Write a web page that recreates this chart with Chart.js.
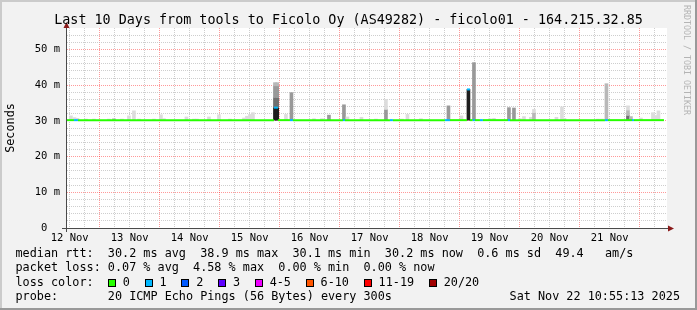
<!DOCTYPE html>
<html>
<head>
<meta charset="utf-8">
<title>Last 10 Days from tools to Ficolo Oy</title>
<script src="https://cdn.jsdelivr.net/npm/chart.js"></script>
<style>
  html, body { margin: 0; padding: 0; background: #f2f2f2; }
  #graph { position: relative; width: 697px; height: 310px; overflow: hidden; background: #f2f2f2;
           font-family: "DejaVu Sans Mono", monospace; color: #000; }
  #graph canvas { position: absolute; left: 0; top: 0; }
  .edge { position: absolute; }
  .t { position: absolute; white-space: pre; font-size: 11.8px; line-height: 14px; }
  #title { left: 0; width: 697px; top: 11.5px; text-align: center; font-size: 13.4px; line-height: 16px; }
  #mark { left: 681.5px; top: 5px; width: 10px; font-size: 8.3px; line-height: 10px;
          writing-mode: vertical-rl; color: #b4b4b4; }
  .sw { display: inline-block; width: 6px; height: 6px; border: 1px solid #000; vertical-align: -1px; margin-right: 7px; }
  .lab { margin-right: 14.6px; }
</style>
</head>
<body>
<div id="graph">
  <canvas id="rtt" width="697" height="310"></canvas>
  <div class="edge" style="left:0;top:0;width:697px;height:2px;background:#cbcbcb"></div>
  <div class="edge" style="left:0;top:0;width:2px;height:310px;background:#cbcbcb"></div>
  <div class="edge" style="left:0;top:308px;width:697px;height:2px;background:#999"></div>
  <div class="edge" style="left:695px;top:0;width:2px;height:310px;background:#999"></div>
  <div class="t" id="title">Last 10 Days from tools to Ficolo Oy (AS49282) - ficolo01 - 164.215.32.85</div>
  <div class="t" id="mark">RRDTOOL / TOBI OETIKER</div>
  <div class="t" id="line1" style="left:15.5px;top:246.2px"></div>
  <div class="t" id="line2" style="left:15.5px;top:260.4px"></div>
  <div class="t" id="line3" style="left:15.5px;top:274.6px"></div>
  <div class="t" id="line4" style="left:15.5px;top:288.8px"></div>
  <div class="t" id="stamp" style="right:17px;top:288.8px"></div>
</div>
<script>
(function () {
    "use strict";

    // x axis: hours after 12 Nov 00:00, graph covers 10 days up to 22 Nov 10:55
    const rangeStart = 10.92;
    const rangeEnd = 250.92;
    const dayLabels = ["12 Nov", "13 Nov", "14 Nov", "15 Nov", "16 Nov",
                       "17 Nov", "18 Nov", "19 Nov", "20 Nov", "21 Nov"];

    // median rtt (ms) and lost pings, each value holds until the next hour listed
    const medianHours = [10.92, 13.7, 15.3, 93.7, 95.3, 100.1, 101.3, 121.3, 122.1, 140.1, 141.3,
                         162.1, 164.1, 170.9, 172.1, 173.2, 174.1, 176.1, 177.3, 187.3, 188.1,
                         226.1, 227.3, 236.9, 237.7, 249.7];
    const medianMs = [30.2, 30.2, 30.2, 33.7, 30.2, 30.2, 30.2, 30.2, 30.2, 30.2, 30.2,
                      30.2, 30.2, 38.8, 30.2, 30.2, 30.2, 30.2, 30.2, 30.2, 30.2,
                      30.2, 30.2, 30.2, 30.2, 30.2];
    const medianLoss = [0, 1, 0, 1, 0, 1, 0, 1, 0, 1, 0,
                        1, 0, 1, 0, 1, 0, 1, 0, 1, 0,
                        1, 0, 1, 0, 0];

    // smoke: spread of the pings per hour (ms), density 1 = few pings .. 5 = most pings
    const smokeHours = [12.5, 13.9, 15.1, 18.5, 21.7, 27.7, 29.7, 32.9, 35.7, 37.7, 39.7, 45.7,
                        48.5, 49.7, 58.7, 61.7, 62.9, 67.7, 71.7, 76.1, 81.7, 82.9, 84.1, 85.3,
                        94.1, 94.1, 94.1, 94.1, 95.0, 95.0, 95.0, 95.0,
                        98.5, 100.7, 109.7, 112.9, 115.7, 121.7, 123.1, 128.7, 134.5,
                        138.5, 138.5, 144.9, 147.1, 152.5, 163.5, 168.7, 171.5, 173.7,
                        180.1, 181.7, 187.7, 189.7, 192.1, 193.7, 196.5, 197.7, 197.7,
                        206.7, 208.9, 209.9, 223.3, 224.9, 226.7,
                        235.3, 235.3, 235.3, 236.5, 240.5, 245.3, 246.5, 247.5];
    const smokeLow = [30.2, 30.2, 30.2, 30.2, 30.2, 30.2, 30.2, 30.2, 30.2, 30.2, 30.2, 30.2,
                      30.2, 30.2, 30.2, 30.2, 30.2, 30.2, 30.2, 30.2, 30.2, 30.2, 30.2, 30.2,
                      30.2, 33.7, 36.5, 39.8, 30.2, 33.7, 36.5, 39.8,
                      30.2, 30.2, 30.2, 30.2, 30.2, 30.2, 30.2, 30.2, 30.2,
                      30.2, 33.2, 30.2, 30.2, 30.2, 30.2, 30.2, 30.2, 30.2,
                      30.2, 30.2, 30.2, 30.2, 30.2, 30.2, 30.2, 30.2, 32.3,
                      30.2, 30.2, 30.2, 30.2, 30.2, 30.2,
                      30.2, 31.5, 33.0, 30.2, 30.2, 30.2, 30.2, 30.2];
    const smokeHigh = [31.4, 30.9, 30.7, 30.5, 30.5, 30.5, 30.6, 30.5, 31.4, 32.8, 30.5, 30.5,
                       31.7, 30.6, 31.1, 30.5, 30.5, 31.1, 31.7, 30.5, 30.8, 31.3, 31.8, 32.3,
                       33.7, 36.5, 39.8, 40.7, 33.7, 36.5, 39.8, 40.7,
                       31.8, 37.9, 30.6, 30.6, 31.6, 34.5, 31.1, 31.0, 30.5,
                       33.2, 36.0, 30.5, 31.8, 30.6, 34.2, 31.4, 38.8, 46.3,
                       30.6, 30.7, 33.7, 33.6, 30.6, 31.2, 31.0, 32.3, 33.2,
                       31.0, 33.9, 30.7, 30.5, 30.5, 40.4,
                       31.5, 33.0, 34.2, 31.2, 30.8, 32.3, 31.5, 32.8];
    const smokeDensity = [1, 1, 1, 1, 1, 1, 2, 1, 1, 1, 1, 1,
                          1, 1, 1, 1, 1, 1, 1, 1, 1, 1, 1, 1,
                          5, 4, 3, 2, 5, 4, 3, 2,
                          1, 3, 1, 1, 3, 3, 1, 1, 1,
                          3, 1, 1, 1, 1, 3, 1, 5, 3,
                          1, 1, 3, 3, 1, 1, 1, 2, 1,
                          1, 1, 1, 1, 1, 2,
                          4, 2, 1, 2, 1, 1, 1, 1];

    // legend
    const rttStats = ["30.2 ms avg", "38.9 ms max", "30.1 ms min", "30.2 ms now", "0.6 ms sd", "49.4   am/s"];
    const lossStats = ["0.07 % avg", "4.58 % max", "0.00 % min", "0.00 % now"];
    const lossLabels = ["0", "1", "2", "3", "4-5", "6-10", "11-19", "20/20"];
    const lossColors = ["#26ff00", "#00b8ff", "#0059ff", "#5e00ff", "#ee00ff", "#ff5500", "#ff0000", "#a10000"];
    const probeText = "20 ICMP Echo Pings (56 Bytes) every 300s";
    const stampText = "Sat Nov 22 10:55:13 2025";

    const shades = ["", "#dcdcdc", "#b8b8b8", "#999999", "#707070", "#1e1e1e"];
    const mono = "'DejaVu Sans Mono', monospace";
    const gridGray = "rgba(185,185,185,0.7)";
    const gridRed = "rgba(255,0,0,0.4)";

    document.getElementById("line1").textContent = "median rtt:  " + rttStats.join("  ");
    document.getElementById("line2").textContent = "packet loss: " + lossStats.join("  ");
    document.getElementById("line3").innerHTML = "loss color:  " + lossLabels.map((l, i) =>
        '<span class="sw" style="background:' + lossColors[i] + '"></span><span class="lab">' + l + "</span>").join("");
    document.getElementById("line4").textContent = "probe:       " + probeText;
    document.getElementById("stamp").textContent = stampText;

    // median as flat pieces, broken between steps
    const medianData = [];
    for (let i = 0; i < medianHours.length - 1; i++) {
        medianData.push({ x: medianHours[i], y: medianMs[i], loss: medianLoss[i] });
        medianData.push({ x: medianHours[i + 1], y: medianMs[i], loss: medianLoss[i] });
        medianData.push({ x: medianHours[i + 1], y: null, loss: 0 });
    }

    const smokeData = smokeHours.map((h, i) => ({ x: h, y: [smokeLow[i], smokeHigh[i]] }));

    const xGrid = [];
    for (let h = 12; h < rangeEnd; h += 6) xGrid.push(h);
    const yGrid = [];
    for (let v = 0; v <= 54; v += 2) yGrid.push(v);

    const frame = {
        id: "frame",
        beforeDraw(chart) {
            const { ctx, chartArea: a } = chart;
            ctx.save();
            ctx.fillStyle = "#f2f2f2";
            ctx.fillRect(0, 0, chart.width, chart.height);
            ctx.fillStyle = "#ffffff";
            ctx.fillRect(a.left, a.top, a.right - a.left, a.bottom - a.top);
            ctx.restore();
        },
        afterDatasetsDraw(chart) {
            const { ctx, chartArea: a } = chart;
            ctx.save();
            ctx.strokeStyle = "#4a4a4a";
            ctx.lineWidth = 1;
            ctx.beginPath();
            ctx.moveTo(a.left - 5, a.bottom + 0.5);
            ctx.lineTo(a.right + 3, a.bottom + 0.5);
            ctx.moveTo(a.left - 0.5, a.bottom + 4);
            ctx.lineTo(a.left - 0.5, a.top - 3);
            ctx.stroke();
            ctx.fillStyle = "#8a1a1a";
            ctx.beginPath();
            ctx.moveTo(a.right + 7, a.bottom + 0.5);
            ctx.lineTo(a.right + 1, a.bottom - 2.5);
            ctx.lineTo(a.right + 1, a.bottom + 3.5);
            ctx.closePath();
            ctx.fill();
            ctx.beginPath();
            ctx.moveTo(a.left - 0.5, a.top - 6);
            ctx.lineTo(a.left - 3.5, a.top);
            ctx.lineTo(a.left + 2.5, a.top);
            ctx.closePath();
            ctx.fill();
            ctx.restore();
        },
    };

    const chart = new Chart(document.getElementById("rtt").getContext("2d"), {
        type: "bar",
        data: {
            datasets: [
                {
                    type: "bar",
                    data: smokeData,
                    order: 2,
                    barThickness: 3,
                    borderWidth: 0,
                    backgroundColor: (c) => shades[smokeDensity[c.dataIndex]] || shades[1],
                },
                {
                    type: "line",
                    data: medianData,
                    order: 1,
                    borderWidth: 2,
                    borderColor: lossColors[0],
                    borderCapStyle: "butt",
                    pointRadius: 0,
                    tension: 0,
                    spanGaps: false,
                    segment: {
                        borderColor: (c) => lossColors[medianData[c.p0DataIndex].loss],
                    },
                },
            ],
        },
        options: {
            responsive: false,
            animation: false,
            events: [],
            layout: {
                padding: { left: 0, right: 30, top: 28, bottom: 0 },
            },
            plugins: {
                legend: { display: false },
                title: { display: false },
                tooltip: { enabled: false },
            },
            scales: {
                x: {
                    type: "linear",
                    min: rangeStart,
                    max: rangeEnd,
                    offset: false,
                    afterBuildTicks: (axis) => {
                        axis.ticks = xGrid.map((v) => ({ value: v }));
                    },
                    afterFit: (scale) => {
                        scale.height = 82;
                    },
                    grid: {
                        offset: false,
                        drawTicks: false,
                        color: (c) => (c.tick && c.tick.value % 24 === 0 ? gridRed : gridGray),
                    },
                    border: {
                        display: false,
                        dash: [1, 1],
                    },
                    ticks: {
                        autoSkip: false,
                        maxRotation: 0,
                        padding: 4,
                        color: "#000",
                        font: { family: mono, size: 10.5 },
                        callback: (v) => (v % 24 === 12 ? dayLabels[(v - 12) / 24] : ""),
                    },
                },
                y: {
                    min: 0,
                    max: 56,
                    afterBuildTicks: (axis) => {
                        axis.ticks = yGrid.map((v) => ({ value: v }));
                    },
                    afterFit: (scale) => {
                        scale.width = 67;
                    },
                    grid: {
                        drawTicks: false,
                        color: (c) => (c.tick && c.tick.value % 10 === 0 ? gridRed : gridGray),
                    },
                    border: {
                        display: false,
                        dash: [1, 1],
                    },
                    ticks: {
                        autoSkip: false,
                        padding: 7,
                        color: "#000",
                        font: { family: mono, size: 10.5 },
                        callback: (v) => (v % 10 === 0 ? (v === 0 ? "0  " : v + " m") : ""),
                    },
                    title: {
                        display: true,
                        text: "Seconds",
                        color: "#000",
                        font: { family: mono, size: 11.8 },
                        padding: { top: 4, bottom: 0 },
                    },
                },
            },
        },
        plugins: [frame],
    });
})();
</script>
</body>
</html>
